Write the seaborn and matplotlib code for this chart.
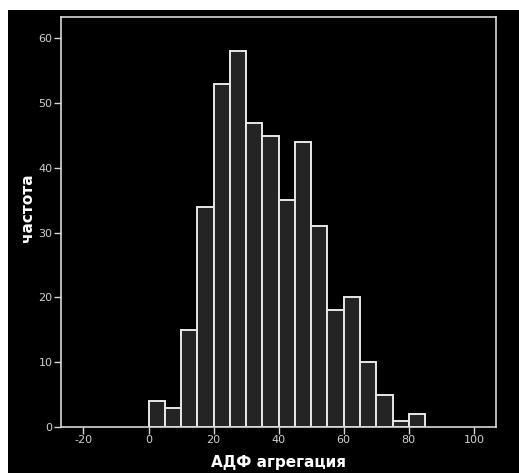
import matplotlib
matplotlib.use("Agg")
import matplotlib.pyplot as plt
import seaborn as sns
import numpy as np
import pandas as pd
from matplotlib.patches import Rectangle

# Data (bin width 5)
bin_edges = [0, 5, 10, 15, 20, 25, 30, 35, 40, 45, 50, 55, 60, 65, 70, 75, 80, 85]
counts = [4, 3, 15, 34, 53, 58, 47, 45, 35, 44, 31, 18, 20, 10, 5, 1, 2]
x_ticks = [-20, 0, 20, 40, 60, 80, 100]
y_ticks = [0, 10, 20, 30, 40, 50, 60]
x_label = "АДФ агрегация"
y_label = "частота"

centers = [(a + b) / 2 for a, b in zip(bin_edges[:-1], bin_edges[1:])]
df = pd.DataFrame({"value": centers, "count": counts})

sns.set_style("dark")
plt.rcParams["font.family"] = ["DejaVu Sans"]
plt.rcParams["axes.unicode_minus"] = False

fig = plt.figure(figsize=(5.19, 4.73), dpi=100)
fig.patch.set_facecolor("white")
fig.patches.append(Rectangle((8 / 519, 0), 1 - 8 / 519, 1 - 10 / 473,
                             transform=fig.transFigure, facecolor="black",
                             edgecolor="none", zorder=-10))

ax = fig.add_axes([61 / 519, 46 / 473, 435 / 519, 410 / 473])
ax.set_facecolor("black")

sns.histplot(data=df, x="value", weights="count", bins=bin_edges, ax=ax,
             color="#242424", edgecolor="#e8e8e8", linewidth=1.4, alpha=1.0)

ax.set_xlim(-26.9, 106.8)
ax.set_ylim(0, 63.3)
ax.set_xticks(x_ticks)
ax.set_yticks(y_ticks)
ax.grid(False)

for s in ax.spines.values():
    s.set_visible(True)
    s.set_color("#d8d8d8")
    s.set_linewidth(1.2)

ax.tick_params(axis="both", which="both", direction="out", length=5, width=1,
               color="#d8d8d8", labelcolor="#d0d0d0", labelsize=8,
               bottom=True, left=True, pad=1)

ax.set_xlabel(x_label, color="white", fontsize=11, fontweight="bold")
ax.set_ylabel(y_label, color="white", fontsize=11, fontweight="bold")
ax.yaxis.set_label_coords(-0.060, 0.535)
ax.xaxis.set_label_coords(0.5, -0.068)

fig.savefig("out.png", dpi=100, facecolor=fig.get_facecolor())
